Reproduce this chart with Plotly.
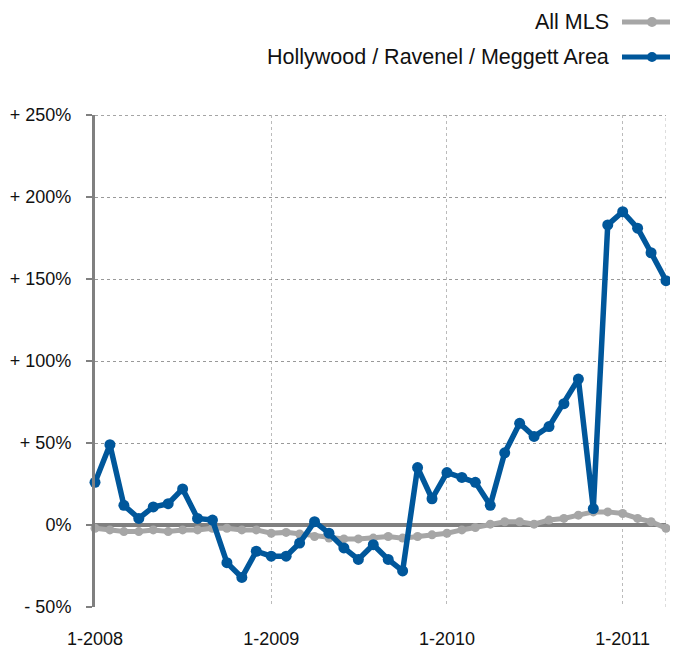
import plotly.graph_objects as go
import pandas as pd

months = [d.strftime("%Y-%m-%d") for d in pd.date_range("2008-01-01", "2011-04-01", freq="MS")]

area_name = "Hollywood / Ravenel / Meggett Area"
area_values = [26, 49, 12, 4, 11, 13, 22, 4, 3, -23, -32, -16, -19, -19, -11, 2, -5, -14, -21, -12,
               -21, -28, 35, 16, 32, 29, 26, 12, 44, 62, 54, 60, 74, 89, 10, 183, 191, 181, 166, 149]

mls_name = "All MLS"
mls_values = [-2, -3, -4, -4, -3, -4, -3, -3, -2, -2, -3, -3, -5, -4.5, -5.5, -7, -8, -8.5, -8.5, -8,
              -7, -8, -7, -6, -5, -3, -1.5, 0.5, 2, 2, 0.5, 3, 4, 6, 8, 8, 7, 4, 2, -2]

y_ticks = [-50, 0, 50, 100, 150, 200, 250]
y_tick_text = ["- 50%", "0%", "+ 50%", "+ 100%", "+ 150%", "+ 200%", "+ 250%"]
x_ticks = ["2008-01-01", "2009-01-01", "2010-01-01", "2011-01-01"]
x_tick_text = ["1-2008", "1-2009", "1-2010", "1-2011"]

BLUE = "#00579B"
GREY = "#A6A6A6"
FONT = "Liberation Sans, Arial, Helvetica, sans-serif"

# page body has an 8px margin; plot area in page px: x 95..666, y 115..607
OFF = 8
W, H = 678 - OFF, 648 - OFF
PL, PR, PT, PB = 95, 666, 115, 607
PW, PH = PR - PL, PB - PT

fig = go.Figure()
fig.add_trace(go.Scatter(x=months, y=mls_values, name=mls_name, mode="lines+markers",
                         line=dict(color=GREY, width=5), marker=dict(color=GREY, size=9),
                         cliponaxis=False, showlegend=False))
fig.add_trace(go.Scatter(x=months, y=area_values, name=area_name, mode="lines+markers",
                         line=dict(color=BLUE, width=5.5), marker=dict(color=BLUE, size=11),
                         cliponaxis=False, showlegend=False))

# right edge dotted line
fig.add_shape(type="line", xref="x", yref="y", x0=months[-1], x1=months[-1], y0=-50, y1=250,
              line=dict(color="#BBBBBB", width=1, dash="dot"), layer="below")
# top edge line
fig.add_shape(type="line", xref="x", yref="y", x0=months[0], x1=months[-1], y0=250, y1=250,
              line=dict(color="#888888", width=1.5, dash="dot"), layer="below")

# custom legend (symbol on the right of the text)
legend_items = [(mls_name, GREY, 22), (area_name, BLUE, 57)]
for name, color, ypx in legend_items:
    ypaper = (PB - ypx) / PH
    fig.add_annotation(text=name, xref="paper", yref="paper", x=(611 - PL) / PW, y=ypaper,
                       xanchor="right", yanchor="middle", showarrow=False,
                       font=dict(family=FONT, size=21.5, color="#111111"))
    fig.add_shape(type="line", xref="paper", yref="paper",
                  x0=(622 - PL) / PW, x1=(680 - PL) / PW, y0=ypaper, y1=ypaper,
                  line=dict(color=color, width=5))
    fig.add_shape(type="circle", xref="paper", yref="paper",
                  x0=(647 - PL) / PW, x1=(657 - PL) / PW,
                  y0=ypaper - 5 / PH, y1=ypaper + 5 / PH,
                  fillcolor=color, line=dict(color=color, width=0))

fig.update_layout(
    width=W, height=H,
    margin=dict(l=PL - OFF, r=W - (PR - OFF), t=PT - OFF, b=H - (PB - OFF), autoexpand=False),
    paper_bgcolor="white", plot_bgcolor="white",
    font=dict(family=FONT, size=18, color="#111111"),
    showlegend=False,
)
fig.update_xaxes(
    range=[months[0], months[-1]], tickvals=x_ticks, ticktext=x_tick_text,
    showgrid=True, gridcolor="#BBBBBB", gridwidth=1, griddash="dot",
    showline=False, ticks="", ticklabelstandoff=19, zeroline=False, automargin=False,
    tickfont=dict(family=FONT, size=18, color="#111111"),
)
fig.update_yaxes(
    range=[-50, 250], tickvals=y_ticks, ticktext=y_tick_text,
    showgrid=True, gridcolor="#999999", gridwidth=1, griddash="dot",
    zeroline=True, zerolinecolor="#808080", zerolinewidth=4,
    showline=True, linecolor="#808080", linewidth=3, automargin=False,
    ticks="outside", ticklen=6, tickwidth=2, tickcolor="#808080", ticklabelstandoff=11,
    tickfont=dict(family=FONT, size=18, color="#111111"),
)

fig.write_html("out.html")
